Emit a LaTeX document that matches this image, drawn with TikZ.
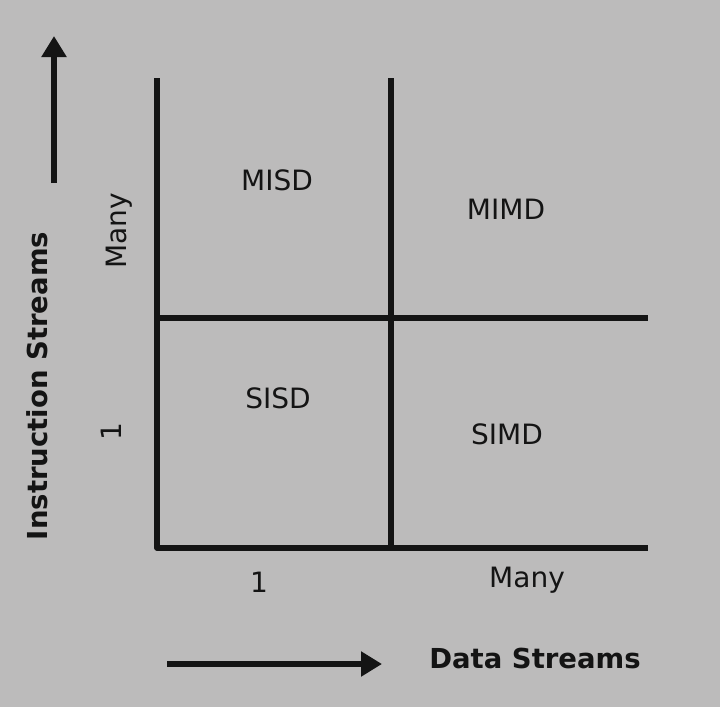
\documentclass[tikz,border=0pt]{standalone}
\usepackage{fontspec}
\setmainfont{DejaVu Sans}
\usetikzlibrary{arrows.meta}
\definecolor{bg}{RGB}{188,187,187}
\definecolor{ink}{RGB}{20,20,20}
\begin{document}
\begin{tikzpicture}[x=1pt,y=-1pt,
  gridline/.style={draw=ink,line width=5.5pt,line join=round},
  axisarrow/.style={draw=ink,line width=6pt,-{Triangle[length=21pt,width=24pt]}},
  quad/.style={font=\fontsize{28}{30}\selectfont,text=ink,anchor=base,inner sep=0pt},
  tick/.style={font=\fontsize{28}{30}\selectfont,text=ink,anchor=base,inner sep=0pt},
  axlabel/.style={font=\bfseries\fontsize{27.5}{30}\selectfont,text=ink,anchor=base,inner sep=0pt}]
\fill[bg] (0,0) rectangle (720,707);
\useasboundingbox (0,0) rectangle (720,707);
% grid
\coordinate (tl) at (157,78);
\coordinate (bl) at (157,548);
\coordinate (br) at (648,548);
\coordinate (mt) at (391,78);
\coordinate (mb) at (391,548);
\coordinate (ml) at (157,318);
\coordinate (mr) at (648,318);
\draw[gridline] (tl) -- (bl) -- (br);
\draw[gridline] (mt) -- (mb);
\draw[gridline] (ml) -- (mr);
% arrows
\coordinate (ua0) at (54,183);
\coordinate (ua1) at (54,36);
\draw[axisarrow] (ua0) -- (ua1);
\coordinate (ra0) at (167,664);
\coordinate (ra1) at (382,664);
\draw[axisarrow] (ra0) -- (ra1);
% quadrant labels
\node[quad] (misd) at (277,190) {MISD};
\node[quad] (mimd) at (506,219) {MIMD};
\node[quad] (sisd) at (278,408) {SISD};
\node[quad] (simd) at (507,444) {SIMD};
% ticks
\node[tick] (x1) at (259,592) {1};
\node[tick] (xmany) at (527,587) {Many};
\node[tick,rotate=90] (ymany) at (126,231) {Many};
\node[tick,rotate=90] (y1) at (121,432) {1};
% axis labels
\node[axlabel] (xlab) at (535,668) {Data Streams};
\node[axlabel,rotate=90] (ylab) at (47,386) {Instruction Streams};
\end{tikzpicture}
\end{document}
